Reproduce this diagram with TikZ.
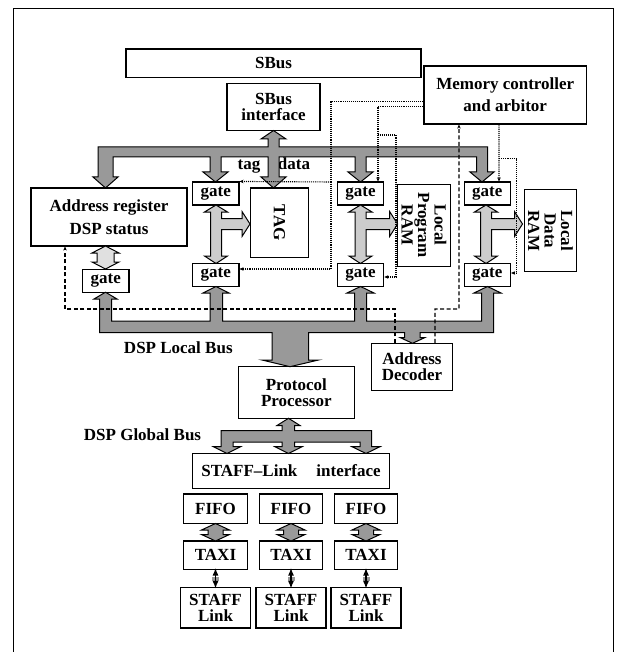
\documentclass[tikz,border=0pt]{standalone}
\usepackage{fontspec}
\setmainfont{Liberation Serif}
\usetikzlibrary{arrows.meta}
\definecolor{busgray}{gray}{0.6}
\definecolor{lanegray}{gray}{0.8}
\definecolor{palegray}{gray}{0.88}

\begin{document}
\begin{tikzpicture}[x=1pt,y=-1pt,
    blk/.style={draw,line width=1.1pt,fill=white,inner sep=0pt,align=center,
      font=\fontsize{17}{16.5}\selectfont\bfseries},
    lbl/.style={inner sep=0pt,anchor=base,font=\fontsize{17}{16.5}\selectfont\bfseries},
    bus/.style={draw,line width=1pt,fill=busgray},
    lane/.style={draw,line width=1pt,fill=lanegray},
    ctrl/.style={line width=1.1pt,densely dotted,-{Stealth[length=4pt,width=3.5pt]}},
    sel/.style={line width=1.1pt,dash pattern=on 4pt off 2.5pt,-{Stealth[length=4pt,width=3.5pt]}}]
  \useasboundingbox (0,0) rectangle (621,652);
  \draw[line width=1.2pt] (13.5,652) -- (13.5,8.5) -- (613.5,8.5) -- (613.5,652);

  % boxes
  \node[blk,minimum width=295,minimum height=28.5] (sbus) at (273.5,63.25) {SBus};
  \node[blk,minimum width=162.5,minimum height=58] (mc) at (505.25,95) {Memory controller\\[5.5pt]and arbitor};
  \node[blk,minimum width=93,minimum height=47] (sbi) at (273.5,107) {SBus\\interface};
  \node[blk,minimum width=156,minimum height=58] (addr) at (109,217) {Address register\\[6.5pt]DSP status};
  \node[blk,minimum width=46.5,minimum height=23] (ga) at (105.7,280.7) {gate};
  \node[blk,minimum width=46.5,minimum height=23] (g1t) at (215.75,193.5) {gate};
  \node[blk,minimum width=46.5,minimum height=23] (g1b) at (215.75,275) {gate};
  \node[blk,minimum width=46.5,minimum height=23] (g2t) at (360.5,193.5) {gate};
  \node[blk,minimum width=46.5,minimum height=23] (g2b) at (360.5,275) {gate};
  \node[blk,minimum width=46.5,minimum height=23] (g3t) at (487.3,193.5) {gate};
  \node[blk,minimum width=46.5,minimum height=23] (g3b) at (487.3,275) {gate};
  \node[blk,rotate=-90,minimum width=69.5,minimum height=58] (tag) at (279.5,222.75) {TAG};
  \node[blk,rotate=-90,minimum width=81.7,minimum height=52.7] (lpram) at (424,225.2) {Local\\Program\\RAM};
  \node[blk,rotate=-90,minimum width=81.7,minimum height=52.3] (ldram) at (550.5,230.8) {Local\\Data\\RAM};
  \node[blk,minimum width=80.6,minimum height=46.7] (dec) at (412,366.7) {Address\\Decoder};
  \node[blk,minimum width=116,minimum height=51.6] (pp) at (296.3,392.5) {Protocol\\Processor};
  \node[blk,minimum width=197,minimum height=35] (sli) at (291,471) {STAFF--Link\hspace{19pt}interface};
  \foreach \c [count=\i] in {215.5,291,366} {
    \node[blk,minimum width=63.5,minimum height=29.5] (fifo\i) at (\c,508.75) {FIFO};
    \node[blk,minimum width=63.5,minimum height=28.5] (taxi\i) at (\c,555.25) {TAXI};
    \node[blk,minimum width=70,minimum height=40.5] (stl\i) at (\c,607.75) {STAFF\\Link};
  }

  % labels
  \node[lbl] (ltag) at (249,169.5) {tag};
  \node[lbl] (ldata) at (294,169.5) {data};
  \node[lbl] (llocal) at (178.3,353) {DSP Local Bus};
  \node[lbl] (lglobal) at (142.5,440) {DSP Global Bus};

  % SBus side bus
  \draw[bus] (98,147) -- (268,147) -- (268,139) -- (261,139) -- (273.5,130.5) -- (286,139)
    -- (279,139) -- (279,147) -- (487.5,147) -- (487.5,172) -- (494,172) -- (482,182)
    -- (470,172) -- (476.5,172) -- (476.5,157) -- (366,157) -- (366,172) -- (373,172)
    -- (360.5,182) -- (348,172) -- (355,172) -- (355,157) -- (279,157) -- (279,177)
    -- (286,177) -- (273.5,188) -- (261,177) -- (268,177) -- (268,157) -- (221,157)
    -- (221,172) -- (228,172) -- (215.5,182) -- (203,172) -- (210,172) -- (210,157)
    -- (113,157) -- (113,177) -- (118,177) -- (105.5,188) -- (93,177) -- (98,177) -- cycle;

  % DSP local bus
  \draw[bus] (99.5,332.5) -- (99.5,299) -- (94,299) -- (105.5,292.2) -- (117,299) -- (111.5,299)
    -- (111.5,321) -- (210,321) -- (210,293) -- (203,293) -- (216,286.5) -- (229,293)
    -- (222.5,293) -- (222.5,321) -- (354.5,321) -- (354.5,293) -- (347,293) -- (360.5,286.5)
    -- (374,293) -- (366.5,293) -- (366.5,321) -- (481.5,321) -- (481.5,293) -- (474,293)
    -- (487.5,286.5) -- (501,293) -- (493.5,293) -- (493.5,332.5) -- (420,332.5) -- (420,337.5)
    -- (425,337.5) -- (412.5,343.3) -- (400,337.5) -- (404.5,337.5) -- (404.5,332.5)
    -- (308.5,332.5) -- (308.5,360) -- (318.5,360) -- (290,366.7) -- (262,360) -- (272,360)
    -- (272,332.5) -- cycle;

  % DSP global bus
  \draw[bus] (221,430.7) -- (282,430.7) -- (282,425.5) -- (277,425.5) -- (288.5,418.3)
    -- (300,425.5) -- (294.5,425.5) -- (294.5,430.7) -- (371.7,430.7) -- (371.7,446.7)
    -- (380,446.7) -- (366,453.5) -- (352,446.7) -- (360,446.7) -- (360,442) -- (294.5,442)
    -- (294.5,446.7) -- (302,446.7) -- (288.5,453.5) -- (275,446.7) -- (282,446.7)
    -- (282,442) -- (233,442) -- (233,446.7) -- (240.5,446.7) -- (227,453.5) -- (213.5,446.7)
    -- (221,446.7) -- cycle;

  % gate to memory lanes
  \foreach \c/\t in {216/250,360.5/397.6,486/522.5} {
    \draw[lane] ({\c-5.5},212) -- ({\c-11.5},212) -- (\c,205) -- ({\c+11.5},212) -- ({\c+5.5},212)
      -- ({\c+5.5},218.5) -- ({\t-8},218.5) -- ({\t-8},211.5) -- (\t,224) -- ({\t-8},236.5)
      -- ({\t-8},229.5) -- ({\c+5.5},229.5) -- ({\c+5.5},256) -- ({\c+11.5},256) -- (\c,263.5)
      -- ({\c-11.5},256) -- ({\c-5.5},256) -- cycle;
  }
  \draw[lane,fill=palegray] (97,253) -- (92,253) -- (105.5,246) -- (119,253) -- (114,253)
    -- (114,262) -- (119,262) -- (105.5,269) -- (92,262) -- (97,262) -- cycle;

  % links
  \foreach \c [count=\i] in {215.5,291,366} {
    \draw[bus] ({\c-7.5},530) -- ({\c-14},530) -- (\c,523.5) -- ({\c+14},530) -- ({\c+7.5},530)
      -- ({\c+7.5},534.5) -- ({\c+14},534.5) -- (\c,541) -- ({\c-14},534.5) -- ({\c-7.5},534.5) -- cycle;
    \fill[busgray] ({\c-3.5},577) rectangle ({\c+3.5},580.5);
    \draw[line width=1.6pt,shorten <=-2.5pt,shorten >=-2pt,
      {Latex[length=8pt,width=6pt]}-{Latex[length=8pt,width=6pt]}]
      (taxi\i.south) -- (stl\i.north);
  }

  % memory controller lines
  \draw[ctrl] ([yshift=-6.7pt]mc.west) -| (331,269) -- ([yshift=6pt]g1b.east);
  \draw[ctrl] (331,182) -- (g1t.north east);
  \draw[ctrl] ([yshift=-11.7pt]mc.west) -| ([xshift=17.5pt]g2t.north);
  \draw[ctrl] (377.5,135) -| (396,277) -- ([yshift=-2pt]g2b.east);
  \draw[ctrl] ([xshift=-6.3pt]mc.south) -- ([xshift=11.7pt]g3t.north);
  \draw[ctrl] (499,158.3) -| (516.7,273) -- ([yshift=2pt]g3b.east);

  % address decoder lines
  \draw[sel] ([xshift=-17pt]dec.north) |- (65,309) -- ([xshift=-44pt]addr.south);
  \draw[sel] ([xshift=23pt]dec.north) |- (459,309) -- ([xshift=-46.3pt]mc.south);
\end{tikzpicture}
\end{document}
